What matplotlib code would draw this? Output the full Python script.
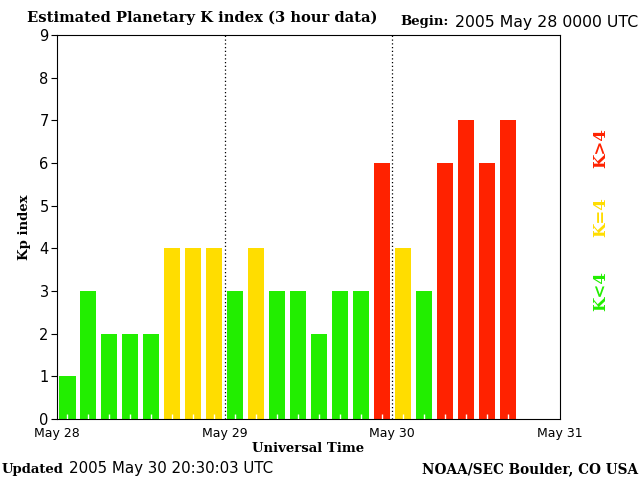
import matplotlib
matplotlib.use('Agg')
import matplotlib.pyplot as plt
import numpy as np

# Kp values, one per 3-hour slot starting 2005 May 28 0000 UTC
kp = [1, 3, 2, 2, 2, 4, 4, 4,
      3, 4, 3, 3, 2, 3, 3, 6,
      4, 3, 6, 7, 6, 7]
day_labels = ['May 28', 'May 29', 'May 30', 'May 31']

green = '#22ee00'
yellow = '#ffdd00'
red = '#ff2200'

hours = np.arange(len(kp)) * 3 + 1.5
colors = [green if k < 4 else (yellow if k == 4 else red) for k in kp]

fig = plt.figure(figsize=(6.4, 4.8), dpi=100)
ax = fig.add_axes([57 / 640, 1 - 419 / 480, 503 / 640, 384 / 480])

ax.bar(hours, kp, width=2.3, color=colors, zorder=2)
# small white marks at the foot of each bar
ax.vlines(hours, 0, 0.12, color='white', linewidth=1, zorder=3)

ax.set_xlim(0, 72)
ax.set_ylim(0, 9)
ax.set_xticks([0, 24, 48, 72])
ax.set_xticklabels(day_labels)
ax.set_yticks(range(10))
ax.tick_params(axis='x', length=0, pad=6, labelsize=9)
ax.tick_params(axis='y', length=4, width=0.8, pad=2, labelsize=10.5)

for d in [24, 48]:
    ax.axvline(d, color='black', linestyle=(0, (1, 2)), linewidth=0.9, zorder=3)

ax.set_xlabel('Universal Time', family='DejaVu Serif', fontweight='bold', fontsize=9.5, labelpad=1)
ax.set_ylabel('Kp index', family='DejaVu Serif', fontweight='bold', fontsize=9.5, labelpad=6)

fig.text(27 / 640, 1 - 18 / 480, 'Estimated Planetary K index (3 hour data)',
         family='DejaVu Serif', fontweight='bold', fontsize=10.6, va='center')
fig.text(400 / 640, 1 - 22 / 480, 'Begin:', family='DejaVu Serif', fontweight='bold',
         fontsize=9.5, va='center')
fig.text(638 / 640, 1 - 22 / 480, '2005 May 28 0000 UTC', fontsize=11.3, va='center', ha='right')
fig.text(2 / 640, 1 - 469 / 480, 'Updated', family='DejaVu Serif', fontweight='bold',
         fontsize=9.5, va='center')
fig.text(69 / 640, 1 - 469 / 480, '2005 May 30 20:30:03 UTC', fontsize=10.8, va='center')
fig.text(638 / 640, 1 - 469 / 480, 'NOAA/SEC Boulder, CO USA', family='DejaVu Serif',
         fontweight='bold', fontsize=9.8, va='center', ha='right')

for label, col, y in [('K>4', red, 148), ('K=4', yellow, 217), ('K<4', green, 291)]:
    fig.text(601 / 640, 1 - y / 480, label, color=col, rotation=90, family='DejaVu Serif',
             fontweight='bold', fontsize=12, ha='center', va='center')

fig.savefig('out.png', dpi=100)
